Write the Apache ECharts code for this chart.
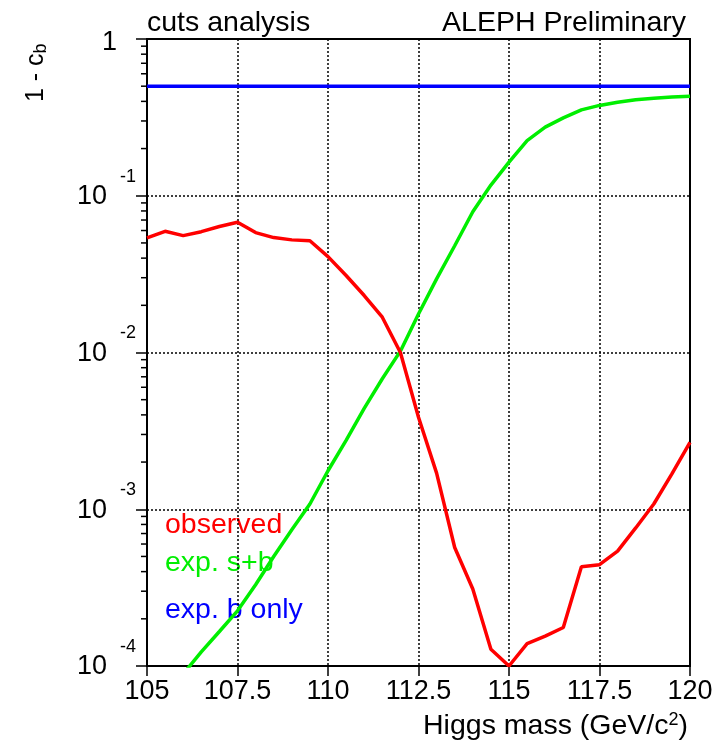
<!DOCTYPE html>
<html>
<head>
<meta charset="utf-8">
<style>
    html, body { margin: 0; padding: 0; background: #fff; }
    #chart { width: 724px; height: 745px; }
</style>
<script src="https://cdn.jsdelivr.net/npm/echarts@6/dist/echarts.min.js"></script>
</head>
<body>
<div id="chart"></div>
<script>
// Higgs mass points (GeV/c^2)
const masses = [105, 105.5, 106, 106.5, 107, 107.5, 108, 108.5, 109, 109.5, 110, 110.5,
    111, 111.5, 112, 112.5, 113, 113.5, 114, 114.5, 115, 115.5, 116, 116.5,
    117, 117.5, 118, 118.5, 119, 119.5, 120];

// 1 - c_b, observed
const observed = [0.0539, 0.0593, 0.0557, 0.059, 0.0636, 0.0677, 0.0582, 0.0541, 0.0523, 0.0516, 0.0409, 0.031,
    0.0231, 0.0168, 0.0100, 0.00386, 0.00170, 0.00057, 0.00031, 0.000128, 0.000100, 0.000139, 0.000155, 0.000176,
    0.00043, 0.000443, 0.00054, 0.00076, 0.00108, 0.00168, 0.00267];

// expected signal + background
const expSB = [0.000047, 0.000066, 0.000089, 0.000123, 0.000166, 0.000225, 0.00033, 0.0005, 0.00074, 0.00108, 0.00176, 0.00275,
    0.0044, 0.0068, 0.0102, 0.0176, 0.0295, 0.048, 0.079, 0.117, 0.164, 0.225, 0.274, 0.314,
    0.353, 0.377, 0.395, 0.41, 0.419, 0.426, 0.431];

// expected background only
const expB = [0.5, 0.5, 0.5, 0.5, 0.5, 0.5, 0.5, 0.5, 0.5, 0.5, 0.5, 0.5,
    0.5, 0.5, 0.5, 0.5, 0.5, 0.5, 0.5, 0.5, 0.5, 0.5, 0.5, 0.5,
    0.5, 0.5, 0.5, 0.5, 0.5, 0.5, 0.5];

// minor ticks on the log axis (2..9 per decade)
const minorTickValues = [
    0.0002, 0.0003, 0.0004, 0.0005, 0.0006, 0.0007, 0.0008, 0.0009,
    0.002, 0.003, 0.004, 0.005, 0.006, 0.007, 0.008, 0.009,
    0.02, 0.03, 0.04, 0.05, 0.06, 0.07, 0.08, 0.09,
    0.2, 0.3, 0.4, 0.5, 0.6, 0.7, 0.8, 0.9
];

const FONT = "'Liberation Sans', Arial, Helvetica, sans-serif";

function pairs(ys) {
    return masses.map(function (m, i) { return [m, ys[i]]; });
}

let myChart = echarts.init(document.getElementById('chart'));

myChart.setOption({
    backgroundColor: '#fff',
    animation: false,
    grid: {
        left: 147,
        right: 34,
        top: 39,
        bottom: 79,
        show: true,
        borderColor: '#000',
        borderWidth: 2
    },
    xAxis: {
        type: 'value',
        min: 105,
        max: 120,
        interval: 2.5,
        axisLine: { lineStyle: { color: '#000', width: 2 } },
        axisTick: { length: 10, lineStyle: { color: '#000', width: 1.5 } },
        axisLabel: {
            margin: 12,
            color: '#000',
            fontFamily: FONT,
            fontSize: 27
        },
        splitLine: {
            show: true,
            lineStyle: { color: '#000', width: 1.5, type: [2, 2] }
        }
    },
    yAxis: {
        type: 'log',
        logBase: 10,
        min: 0.0001,
        max: 1,
        axisLine: { lineStyle: { color: '#000', width: 2 } },
        axisTick: { length: 11, lineStyle: { color: '#000', width: 1.5 } },
        axisLabel: {
            margin: 11,
            color: '#000',
            fontFamily: FONT,
            formatter: function (v) {
                let e = Math.round(Math.log10(v));
                if (e === 0) return '{one|1}';
                // exponent on a thin first line, mantissa below it
                return '{s|' + e + '}\n{b|10}{sp| }';
            },
            rich: {
                one: { fontSize: 27, fontFamily: FONT, color: '#000', padding: [8, 19, 0, 0] },
                s: { fontSize: 18, lineHeight: 2, fontFamily: FONT, color: '#000' },
                b: { fontSize: 27, lineHeight: 38, fontFamily: FONT, color: '#000' },
                sp: { width: 29, lineHeight: 38, fontSize: 27 }
            }
        },
        splitLine: {
            show: true,
            lineStyle: { color: '#000', width: 1.5, type: [2, 2] }
        }
    },
    graphic: [
        {
            type: 'text', left: 147, top: 9,
            style: { text: 'cuts analysis', fontSize: 28.5, fontFamily: FONT, fill: '#000' }
        },
        {
            type: 'text', right: 38, top: 9,
            style: { text: 'ALEPH Preliminary', fontSize: 28.5, fontFamily: FONT, fill: '#000' }
        },
        {
            type: 'text', right: 36, top: 711,
            style: {
                text: 'Higgs mass (GeV/c{sup|2})',
                fontSize: 28.5, fontFamily: FONT, fill: '#000',
                rich: {
                    sup: { fontSize: 18, fontFamily: FONT, fill: '#000', verticalAlign: 'top', padding: [0, 0, 12, 0] }
                }
            }
        },
        {
            type: 'text', x: 22, y: 102, rotation: Math.PI / 2,
            style: {
                text: '1 - c{sub|b}',
                fontSize: 25, fontFamily: FONT, fill: '#000',
                rich: {
                    sub: { fontSize: 18, fontFamily: FONT, fill: '#000', verticalAlign: 'bottom', padding: [10, 0, 0, 0] }
                }
            }
        },
        {
            type: 'text', left: 165, top: 511,
            style: { text: 'observed', fontSize: 28.5, fontFamily: FONT, fill: '#ff0000' }
        },
        {
            type: 'text', left: 165, top: 549,
            style: { text: 'exp. s+b', fontSize: 28.5, fontFamily: FONT, fill: '#00ee00' }
        },
        {
            type: 'text', left: 165, top: 596,
            style: { text: 'exp. b only', fontSize: 28.5, fontFamily: FONT, fill: '#0000ff' }
        }
    ],
    series: [
        {
            name: 'exp. b only',
            type: 'line',
            showSymbol: false,
            lineStyle: { color: '#0000ff', width: 3.5 },
            itemStyle: { color: '#0000ff' },
            data: pairs(expB)
        },
        {
            name: 'exp. s+b',
            type: 'line',
            showSymbol: false,
            lineStyle: { color: '#00ee00', width: 3.5 },
            itemStyle: { color: '#00ee00' },
            data: pairs(expSB)
        },
        {
            name: 'observed',
            type: 'line',
            showSymbol: false,
            lineStyle: { color: '#ff0000', width: 3.5 },
            itemStyle: { color: '#ff0000' },
            data: pairs(observed)
        },
        {
            // minor ticks of the log axis, placed through the axis scale
            type: 'custom',
            silent: true,
            clip: false,
            renderItem: function (params, api) {
                let p = api.coord([105, api.value(1)]);
                return {
                    type: 'line',
                    shape: { x1: p[0] - 6, y1: p[1], x2: p[0], y2: p[1] },
                    style: { stroke: '#000', lineWidth: 1.5 }
                };
            },
            data: minorTickValues.map(function (v) { return [105, v]; })
        }
    ]
});

window.addEventListener('resize', function () {
    myChart.resize();
});
</script>
</body>
</html>
